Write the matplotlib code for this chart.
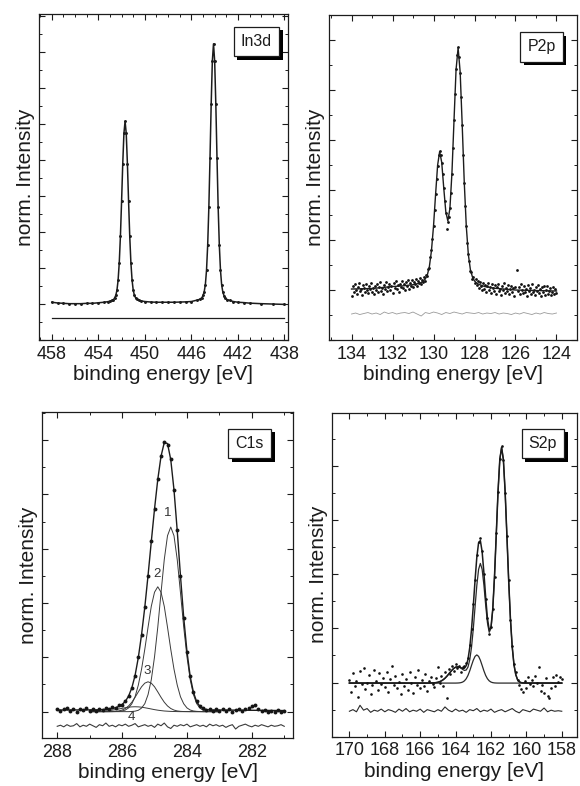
#!/usr/bin/env python3
import matplotlib
matplotlib.use("Agg")
import matplotlib.pyplot as plt
from matplotlib import patheffects
from matplotlib.ticker import FixedLocator, MultipleLocator

# ---------------- In3d ----------------
IN_E = [458.0, 457.5, 457.0, 456.5, 456.0, 455.5, 455.0, 454.5, 454.0, 453.5, 453.2, 453.0,
        452.8, 452.7, 452.6, 452.5, 452.4, 452.3, 452.2, 452.1, 452.0, 451.9, 451.8, 451.7,
        451.6, 451.5, 451.4, 451.3, 451.2, 451.1, 451.0, 450.9, 450.8, 450.7,
        450.5, 450.3, 450.0, 449.5, 449.0, 448.5, 448.0, 447.5, 447.0, 446.5, 446.0, 445.5, 445.3, 445.1,
        445.0, 444.9, 444.8, 444.7, 444.6, 444.5, 444.4, 444.3, 444.2, 444.1,
        444.0, 443.9, 443.8, 443.7, 443.6, 443.5, 443.4, 443.3, 443.2, 443.1,
        442.9, 442.7, 442.4, 442.0, 441.5, 441.0, 440.0, 439.0, 438.0]
IN_I = [1.05, 1.03, 1.02, 1.01, 1.01, 1.01, 1.02, 1.02, 1.035, 1.05, 1.065, 1.08,
        1.105, 1.12, 1.17, 1.24, 1.38, 1.66, 2.15, 2.89, 3.86, 4.90, 5.74, 6.08,
        5.74, 4.90, 3.86, 2.89, 2.15, 1.665, 1.385, 1.245, 1.175, 1.13,
        1.10, 1.085, 1.07, 1.056, 1.05, 1.05, 1.05, 1.05, 1.055, 1.06, 1.07, 1.11, 1.13, 1.174,
        1.24, 1.34, 1.54, 1.94, 2.64, 3.69, 5.07, 6.55, 7.75, 8.23,
        7.75, 6.545, 5.065, 3.685, 2.635, 1.935, 1.535, 1.335, 1.235, 1.164,
        1.12, 1.10, 1.07, 1.05, 1.04, 1.025, 1.01, 1.0, 0.99]
IN_RES_E = [458.0, 438.0]
IN_RES = [0.61, 0.61]
IN_TICKS = [458, 454, 450, 446, 442, 438]

# ---------------- P2p ----------------
P2P_FIT_E = [134.0, 133.0, 132.0, 131.5, 131.0,
             130.9, 130.8, 130.7, 130.6, 130.5, 130.4, 130.3, 130.2, 130.1, 130.0,
             129.9, 129.8, 129.7, 129.6, 129.5, 129.4, 129.3, 129.2, 129.1, 129.0,
             128.9, 128.8, 128.7, 128.6, 128.5, 128.4, 128.3, 128.2, 128.1, 128.0,
             127.9, 127.8, 127.7, 127.5, 127.0, 126.0, 125.0, 124.0]
P2P_FIT = [1.02, 1.03, 1.07, 1.083, 1.106,
           1.113, 1.124, 1.134, 1.15, 1.18, 1.221, 1.303, 1.474, 1.788, 2.275,
           2.905, 3.495, 3.77, 3.555, 3.039, 2.565, 2.381, 2.628, 3.347, 4.39,
           5.407, 5.843, 5.364, 4.302, 3.158, 2.27, 1.709, 1.406, 1.26, 1.182,
           1.142, 1.116, 1.10, 1.069, 1.035, 1.0, 0.99, 0.98]
P2P_E = [134.0, 133.95, 133.9, 133.85, 133.8, 133.75, 133.7, 133.65, 133.6, 133.55,
         133.5, 133.45, 133.4, 133.35, 133.3, 133.25, 133.2, 133.15, 133.1, 133.05,
         133.0, 132.95, 132.9, 132.85, 132.8, 132.75, 132.7, 132.65, 132.6, 132.55,
         132.5, 132.45, 132.4, 132.35, 132.3, 132.25, 132.2, 132.15, 132.1, 132.05,
         132.0, 131.95, 131.9, 131.85, 131.8, 131.75, 131.7, 131.65, 131.6, 131.55,
         131.5, 131.45, 131.4, 131.35, 131.3, 131.25, 131.2, 131.15, 131.1, 131.05,
         131.0, 130.95, 130.9, 130.85, 130.8, 130.75, 130.7, 130.65, 130.6, 130.55,
         130.5, 130.45, 130.4, 130.35, 130.3, 130.25, 130.2, 130.15, 130.1, 130.05,
         130.0, 129.95, 129.9, 129.85, 129.8, 129.75, 129.7, 129.65, 129.6, 129.55,
         129.5, 129.45, 129.4, 129.35, 129.3, 129.25, 129.2, 129.15, 129.1, 129.05,
         129.0, 128.95, 128.9, 128.85, 128.8, 128.75, 128.7, 128.65, 128.6, 128.55,
         128.5, 128.45, 128.4, 128.35, 128.3, 128.25, 128.2, 128.15, 128.1, 128.05,
         128.0,
         127.95, 127.9, 127.85, 127.8, 127.75, 127.7, 127.65, 127.6, 127.55, 127.5,
         127.45, 127.4, 127.35, 127.3, 127.25, 127.2, 127.15, 127.1, 127.05, 127.0,
         126.95, 126.9, 126.85, 126.8, 126.75, 126.7, 126.65, 126.6, 126.55, 126.5,
         126.45, 126.4, 126.35, 126.3, 126.25, 126.2, 126.15, 126.1, 126.05, 126.0,
         125.95, 125.9, 125.85, 125.8, 125.75, 125.7, 125.65, 125.6, 125.55, 125.5,
         125.45, 125.4, 125.35, 125.3, 125.25, 125.2, 125.15, 125.1, 125.05, 125.0,
         124.95, 124.9, 124.85, 124.8, 124.75, 124.7, 124.65, 124.6, 124.55, 124.5,
         124.45, 124.4, 124.35, 124.3, 124.25, 124.2, 124.15, 124.1, 124.05, 124.0]
P2P_I = [0.88, 1.08, 0.97, 1.12, 1.01, 0.93, 1.06, 1.14, 0.98, 1.03,
         0.91, 1.10, 1.05, 0.96, 1.13, 1.00, 0.94, 1.08, 1.02, 1.15,
         0.97, 1.04, 0.92, 1.09, 1.01, 1.12, 0.96, 1.06, 1.17, 0.99,
         1.04, 0.93, 1.11, 1.03, 1.16, 0.98, 1.07, 1.13, 1.00, 1.09,
         0.95, 1.14, 1.05, 1.18, 1.02, 1.10, 0.97, 1.12, 1.06, 1.19,
         1.04, 1.13, 1.00, 1.16, 1.08, 1.21, 1.03, 1.14, 1.09, 1.20,
         1.07, 1.17, 1.12, 1.22, 1.09, 1.19, 1.14, 1.25, 1.13, 1.21,
         1.17, 1.26, 1.19, 1.30, 1.28, 1.42, 1.45, 1.66, 1.80, 2.02,
         2.28, 2.60, 2.92, 3.22, 3.48, 3.70, 3.78, 3.70, 3.54, 3.32,
         3.05, 2.78, 2.55, 2.22, 2.36, 2.46, 2.64, 2.95, 3.33, 3.85,
         4.40, 4.92, 5.42, 5.70, 5.86, 5.66, 5.35, 4.86, 4.31, 3.70,
         3.15, 2.68, 2.29, 1.95, 1.72, 1.58, 1.38, 1.36, 1.22, 1.27,
         1.15,
         1.22, 1.10, 1.19, 1.05, 1.16, 1.08, 1.00, 1.14, 1.03, 1.11,
         0.97, 1.09, 1.15, 1.01, 1.07, 0.94, 1.12, 1.04, 0.99, 1.10,
         0.92, 1.06, 1.13, 0.98, 1.03, 0.90, 1.08, 1.00, 1.14, 0.95,
         1.05, 0.98, 1.11, 0.93, 1.02, 1.09, 0.96, 1.04, 0.89, 1.07,
         1.40, 0.99, 1.06, 0.92, 1.12, 1.00, 0.94, 1.08, 0.97, 1.03,
         0.88, 1.10, 0.99, 1.05, 0.93, 1.13, 0.96, 1.01, 0.90, 1.07,
         0.98, 1.11, 0.94, 1.02, 0.89, 1.06, 0.97, 1.09, 0.91, 1.00,
         1.08, 0.93, 0.99, 1.04, 0.90, 0.97, 1.06, 0.92, 1.02, 0.95]
P2P_RES = [0.52, 0.54, 0.51, 0.53, 0.55, 0.52, 0.54, 0.51, 0.56, 0.53,
           0.55, 0.52, 0.54, 0.55, 0.53, 0.56, 0.52, 0.48, 0.55, 0.53,
           0.56, 0.54, 0.51, 0.55, 0.53, 0.56, 0.54, 0.52, 0.55, 0.54,
           0.53, 0.55, 0.52, 0.54, 0.53, 0.55, 0.52, 0.54, 0.53, 0.51,
           0.54, 0.52, 0.55, 0.53, 0.51, 0.54, 0.52, 0.55, 0.53, 0.52,
           0.54]
P2P_TICKS = [134, 132, 130, 128, 126, 124]

# ---------------- C1s ----------------
C1S_E = [288.0, 287.9, 287.8, 287.7, 287.6, 287.5, 287.4, 287.3, 287.2, 287.1,
         287.0, 286.9, 286.8, 286.7, 286.6, 286.5, 286.4, 286.3, 286.2, 286.1,
         286.0, 285.9, 285.8, 285.7, 285.6, 285.5, 285.4, 285.3, 285.2, 285.1,
         285.0, 284.9, 284.8, 284.7, 284.6, 284.5, 284.4, 284.3, 284.2, 284.1,
         284.0, 283.9, 283.8, 283.7, 283.6, 283.5, 283.4, 283.3, 283.2, 283.1,
         283.0, 282.9, 282.8, 282.7, 282.6, 282.5, 282.4, 282.3, 282.2, 282.1,
         282.0, 281.9, 281.8, 281.7, 281.6, 281.5, 281.4, 281.3, 281.2, 281.1,
         281.0]
C1S_I = [0.05, 0.01, 0.04, 0.06, 0.02, 0.04, 0.00, 0.05, 0.03, 0.06,
         0.01, 0.04, 0.02, 0.05, 0.03, 0.07, 0.04, 0.08, 0.07, 0.12,
         0.13, 0.20, 0.28, 0.44, 0.66, 1.00, 1.42, 1.93, 2.50, 3.14,
         3.73, 4.28, 4.70, 4.97, 4.92, 4.65, 4.08, 3.34, 2.50, 1.73,
         1.10, 0.65, 0.36, 0.19, 0.10, 0.07, 0.03, 0.05, 0.02, 0.04,
         0.01, 0.05, 0.02, 0.04, 0.00, 0.03, 0.05, 0.02, 0.04, 0.06,
         0.10, 0.12, 0.04, 0.01, 0.03, -0.01, 0.02, 0.00, 0.03, -0.01,
         0.01]
C1S_RES = [-0.27, -0.25, -0.28, -0.24, -0.27, -0.26, -0.22, -0.28, -0.25, -0.27,
           -0.23, -0.26, -0.29, -0.24, -0.26, -0.21, -0.27, -0.25, -0.28, -0.24,
           -0.26, -0.23, -0.27, -0.25, -0.22, -0.28, -0.26, -0.24, -0.27, -0.25,
           -0.29, -0.23, -0.26, -0.21, -0.28, -0.31, -0.25, -0.27, -0.24, -0.26,
           -0.23, -0.28, -0.26, -0.24, -0.27, -0.25, -0.28, -0.23, -0.26, -0.24,
           -0.27, -0.25, -0.29, -0.26, -0.24, -0.32, -0.27, -0.25, -0.23, -0.26,
           -0.28, -0.25, -0.27, -0.24, -0.26, -0.28, -0.25, -0.27, -0.26, -0.24,
           -0.27]
C1S_FIT_E = [288.0, 286.8, 286.7, 286.6, 286.5, 286.4, 286.3, 286.2, 286.1, 286.0,
             285.9, 285.8, 285.7, 285.6, 285.5, 285.4, 285.3, 285.2, 285.1, 285.0,
             284.9, 284.8, 284.7, 284.6, 284.5, 284.4, 284.3, 284.2, 284.1, 284.0,
             283.9, 283.8, 283.7, 283.6, 283.5, 283.4, 283.3, 283.0, 281.0]
C1S_FIT = [0.03, 0.033, 0.035, 0.038, 0.042, 0.05, 0.059, 0.072, 0.097, 0.132,
           0.19, 0.286, 0.438, 0.667, 0.996, 1.419, 1.924, 2.509, 3.131, 3.735,
           4.276, 4.703, 4.956, 4.938, 4.643, 4.085, 3.332, 2.50, 1.732, 1.109,
           0.647, 0.355, 0.182, 0.096, 0.055, 0.039, 0.03, 0.03, 0.02]
C1S_COMP_E = [287.0, 286.8, 286.7, 286.6, 286.5, 286.4, 286.3, 286.2, 286.1, 286.0,
              285.9, 285.8, 285.7, 285.6, 285.5, 285.4, 285.3, 285.2, 285.1, 285.0,
              284.9, 284.8, 284.7, 284.6, 284.5, 284.4, 284.3, 284.2, 284.1, 284.0,
              283.9, 283.8, 283.7, 283.6, 283.5, 283.4, 283.3, 283.2, 283.0]
C1S_COMP1 = [0, 0, 0, 0, 0, 0, 0, 0, 0, 0,
             0, 0, 0.003, 0.009, 0.025, 0.066, 0.147, 0.313, 0.587, 1.01,
             1.555, 2.19, 2.80, 3.24, 3.40, 3.24, 2.80, 2.19, 1.555, 1.01,
             0.587, 0.313, 0.147, 0.066, 0.025, 0.009, 0.003, 0, 0]
C1S_COMP2 = [0, 0, 0, 0, 0, 0, 0, 0.002, 0.005, 0.012,
             0.030, 0.069, 0.145, 0.274, 0.489, 0.783, 1.15, 1.555, 1.94, 2.20,
             2.30, 2.20, 1.94, 1.555, 1.15, 0.783, 0.489, 0.274, 0.145, 0.069,
             0.030, 0.012, 0.005, 0.002, 0, 0, 0, 0, 0]
C1S_COMP3 = [0, 0, 0, 0, 0, 0.001, 0.002, 0.0055, 0.013, 0.029,
             0.058, 0.105, 0.174, 0.264, 0.364, 0.458, 0.525, 0.55, 0.525, 0.458,
             0.364, 0.264, 0.174, 0.105, 0.058, 0.029, 0.013, 0.0055, 0.002, 0.001,
             0, 0, 0, 0, 0, 0, 0, 0, 0]
C1S_COMP4 = [0.001, 0.0026, 0.0045, 0.008, 0.012, 0.019, 0.027, 0.037, 0.049, 0.061,
             0.072, 0.082, 0.088, 0.09, 0.088, 0.082, 0.072, 0.061, 0.049, 0.037,
             0.027, 0.019, 0.012, 0.008, 0.0045, 0.0026, 0.001, 0, 0, 0,
             0, 0, 0, 0, 0, 0, 0, 0, 0]
C1S_COMP_NAMES = ["1", "2", "3", "4"]
C1S_TICKS = [288, 286, 284, 282]

# ---------------- S2p ----------------
S2P_E = [170.0, 169.9, 169.8, 169.7, 169.6, 169.5, 169.4, 169.3, 169.2, 169.1,
         169.0, 168.9, 168.8, 168.7, 168.6, 168.5, 168.4, 168.3, 168.2, 168.1,
         168.0, 167.9, 167.8, 167.7, 167.6, 167.5, 167.4, 167.3, 167.2, 167.1,
         167.0, 166.9, 166.8, 166.7, 166.6, 166.5, 166.4, 166.3, 166.2, 166.1,
         166.0, 165.9, 165.8, 165.7, 165.6, 165.5, 165.4, 165.3, 165.2, 165.1,
         165.0, 164.9, 164.8, 164.7, 164.6, 164.5, 164.4, 164.3, 164.2, 164.1,
         164.0, 163.9, 163.8, 163.7, 163.6, 163.5, 163.4, 163.3, 163.2, 163.1,
         163.0, 162.9, 162.8, 162.7, 162.6, 162.5, 162.4, 162.3, 162.2, 162.1,
         162.0, 161.9, 161.8, 161.7, 161.6, 161.5, 161.4, 161.3, 161.2, 161.1,
         161.0, 160.9, 160.8, 160.7, 160.6, 160.5, 160.4, 160.3, 160.2, 160.1,
         160.0, 159.9, 159.8, 159.7, 159.6, 159.5, 159.4, 159.3, 159.2, 159.1,
         159.0, 158.9, 158.8, 158.7, 158.6, 158.5, 158.4, 158.3, 158.2, 158.1,
         158.0]
S2P_I = [1.05, 0.82, 1.18, 0.93, 1.02, 0.74, 1.21, 0.98, 1.26, 0.88,
         1.00, 1.14, 0.79, 0.95, 1.23, 1.03, 0.86, 1.17, 0.97, 1.09,
         0.92, 1.20, 0.83, 1.06, 1.31, 0.96, 1.12, 0.90, 1.01, 0.78,
         1.16, 0.94, 1.07, 0.87, 1.19, 0.99, 0.81, 1.10, 0.96, 1.24,
         0.89, 1.05, 0.93, 1.15, 0.84, 1.02, 1.11, 0.97, 0.91, 1.08,
         1.28, 1.00, 1.12, 0.94, 1.19, 0.72, 1.25, 1.15, 1.30, 1.22,
         1.34, 1.27, 1.31, 1.20, 1.28, 1.30, 1.36, 1.45, 1.70, 1.98,
         2.45, 2.90, 3.35, 3.60, 3.66, 3.42, 3.00, 2.55, 2.20, 1.90,
         2.03, 2.36, 2.95, 3.76, 4.52, 5.13, 5.36, 5.10, 4.50, 3.70,
         2.90, 2.16, 1.68, 1.35, 1.20, 1.05, 0.95, 0.88, 0.83, 1.02,
         0.90, 1.10, 0.97, 1.05, 0.93, 1.12, 1.00, 1.29, 0.85, 0.96,
         0.80, 1.08, 0.76, 0.72, 0.90, 1.10, 0.94, 1.13, 1.01, 1.11,
         1.06]
S2P_RES = [0.47, 0.50, 0.46, 0.58, 0.49, 0.52, 0.45, 0.49, 0.47, 0.51,
           0.46, 0.50, 0.48, 0.45, 0.51, 0.47, 0.52, 0.46, 0.49, 0.47,
           0.51, 0.45, 0.50, 0.48, 0.46, 0.50, 0.47, 0.55, 0.49, 0.46,
           0.51, 0.47, 0.49, 0.45, 0.50, 0.48, 0.52, 0.46, 0.49, 0.47,
           0.51, 0.45, 0.48, 0.50, 0.46, 0.49, 0.52, 0.47, 0.44, 0.50,
           0.48, 0.46, 0.51, 0.49, 0.47, 0.53, 0.46, 0.49, 0.47, 0.48,
           0.47]
S2P_FIT_E = [170.0, 165.5,
             165.2, 165.1, 165.0, 164.9, 164.8, 164.7, 164.6, 164.5, 164.4, 164.3,
             164.2, 164.1, 164.0, 163.9, 163.8, 163.7, 163.6, 163.5, 163.4, 163.3,
             163.2, 163.1, 163.0, 162.9, 162.8, 162.7, 162.6, 162.5, 162.4, 162.3,
             162.2, 162.1, 162.0, 161.9, 161.8, 161.7, 161.6, 161.5, 161.4, 161.3,
             161.2, 161.1, 161.0, 160.9, 160.8, 160.7, 160.6, 160.5, 160.4, 160.3,
             160.2, 160.0, 158.0]
S2P_FIT = [0.99, 0.99,
           0.995, 0.999, 1.005, 1.016, 1.031, 1.052, 1.079, 1.113, 1.152, 1.192,
           1.23, 1.262, 1.283, 1.29, 1.287, 1.274, 1.261, 1.265, 1.311, 1.426,
           1.644, 1.976, 2.41, 2.886, 3.311, 3.581, 3.62, 3.416, 3.026, 2.572,
           2.184, 1.968, 2.018, 2.353, 2.964, 3.745, 4.534, 5.122, 5.34, 5.118,
           4.522, 3.713, 2.882, 2.173, 1.66, 1.329, 1.147, 1.054, 1.014, 0.999,
           0.993, 0.99, 0.99]
S2P_DOUBLET = [0.99, 0.99,
               0.995, 0.999, 1.005, 1.016, 1.031, 1.052, 1.079, 1.113, 1.152, 1.192,
               1.23, 1.262, 1.283, 1.29, 1.284, 1.266, 1.242, 1.224, 1.231, 1.285,
               1.418, 1.65, 1.988, 2.393, 2.791, 3.088, 3.198, 3.09, 2.80, 2.431,
               2.104, 1.927, 1.999, 2.345, 2.961, 3.745, 4.534, 5.122, 5.34, 5.118,
               4.522, 3.713, 2.882, 2.173, 1.66, 1.329, 1.147, 1.054, 1.014, 0.999,
               0.993, 0.99, 0.99]
S2P_SMALL_E = [170.0, 164.0, 163.9, 163.8, 163.7, 163.6, 163.5, 163.4, 163.3, 163.2,
               163.1, 163.0, 162.9, 162.8, 162.7, 162.6, 162.5, 162.4, 162.3, 162.2,
               162.1, 162.0, 161.9, 161.8, 161.7, 161.6, 158.0]
S2P_SMALL = [0.99, 0.99, 0.991, 0.993, 0.998, 1.009, 1.031, 1.07, 1.131, 1.216,
             1.316, 1.412, 1.483, 1.51, 1.483, 1.412, 1.316, 1.216, 1.131, 1.07,
             1.031, 1.009, 0.998, 0.993, 0.991, 0.99, 0.99]
S2P_TICKS = [170, 168, 166, 164, 162, 160, 158]

INK = "#1c1c1c"
plt.rcParams["font.family"] = ["Liberation Sans", "DejaVu Sans"]


def style_axes(ax, xlim, ylim, xticks):
    ax.set_xlim(*xlim)
    ax.set_ylim(*ylim)
    ax.xaxis.set_major_locator(FixedLocator(xticks))
    ax.xaxis.set_minor_locator(MultipleLocator(1))
    ax.yaxis.set_major_locator(MultipleLocator(1))
    ax.yaxis.set_minor_locator(MultipleLocator(0.5))
    ax.tick_params(which="both", direction="in", top=True, right=True,
                   labelleft=False, color=INK, labelcolor=INK)
    ax.tick_params(which="major", length=4, width=0.8, labelsize=13, pad=4)
    ax.tick_params(which="minor", length=2.2, width=0.7)
    ax.set_xlabel("binding energy [eV]", fontsize=15, labelpad=2, color=INK)
    ax.set_ylabel("norm. Intensity", fontsize=15, labelpad=3, color=INK)
    for spine in ax.spines.values():
        spine.set_linewidth(0.9)
        spine.set_color(INK)


def tag(ax, text, x, y):
    # label box with a solid drop shadow drawn under the box itself
    t = ax.text(x, y, text, transform=ax.transAxes, ha="right", va="top", fontsize=11.5,
                color=INK, zorder=6,
                bbox=dict(boxstyle="square,pad=0.45", fc="white", ec=INK, lw=0.9))
    t.get_bbox_patch().set_path_effects([
        patheffects.SimplePatchShadow(offset=(2.6, -2.6), shadow_rgbFace="black", alpha=1.0),
        patheffects.Normal(),
    ])


fig = plt.figure(figsize=(5.8, 7.86), dpi=100)
ax1 = fig.add_axes([0.0672, 0.5674, 0.4293, 0.4148])
ax2 = fig.add_axes([0.5672, 0.5674, 0.4276, 0.4135])
ax3 = fig.add_axes([0.0724, 0.0611, 0.4328, 0.4148])
ax4 = fig.add_axes([0.5719, 0.0627, 0.4229, 0.4122])

# In3d
ax1.plot(IN_E, IN_I, color=INK, lw=1.1, marker=".", ms=2.2)
ax1.plot(IN_RES_E, IN_RES, color=INK, lw=0.9)
style_axes(ax1, (459.1, 437.7), (0, 9.06), IN_TICKS)
tag(ax1, "In3d", 0.936, 0.939)

# P2p
ax2.plot(P2P_E, P2P_I, ls="none", marker="o", ms=2.0, color="#111111", mew=0)
ax2.plot(P2P_FIT_E, P2P_FIT, color=INK, lw=1.0)
ax2.plot(P2P_E[::4], P2P_RES, color="#9a9a9a", lw=0.6)
style_axes(ax2, (135.1, 123.0), (0, 6.5), P2P_TICKS)
tag(ax2, "P2p", 0.914, 0.925)

# C1s
for comp in (C1S_COMP1, C1S_COMP2, C1S_COMP3, C1S_COMP4):
    ax3.plot(C1S_COMP_E, comp, color="#3a3a3a", lw=0.7)
ax3.plot(C1S_FIT_E, C1S_FIT, color=INK, lw=1.0)
ax3.plot(C1S_E, C1S_I, ls="none", marker="o", ms=2.8, color="#151515", mew=0)
ax3.plot(C1S_E, C1S_RES, color="#3a3a3a", lw=0.8)
for name, (ex, ey) in zip(C1S_COMP_NAMES, [(284.58, 3.66), (284.93, 2.53), (285.24, 0.74), (285.7, -0.09)]):
    ax3.text(ex, ey, name, fontsize=9.5, color="#333333", ha="center", va="center")
style_axes(ax3, (288.47, 280.73), (-0.485, 5.52), C1S_TICKS)
tag(ax3, "C1s", 0.884, 0.926)

# S2p
ax4.plot(S2P_SMALL_E, S2P_SMALL, color="#2a2a2a", lw=0.9)
ax4.plot(S2P_FIT_E, S2P_DOUBLET, color="#2a2a2a", lw=0.9)
ax4.plot(S2P_FIT_E, S2P_FIT, color=INK, lw=1.1)
ax4.plot(S2P_E, S2P_I, ls="none", marker="o", ms=1.9, color="#111111", mew=0)
ax4.plot(S2P_E[::2], S2P_RES, color="#2a2a2a", lw=0.8)
style_axes(ax4, (171.0, 157.14), (0, 5.98), S2P_TICKS)
tag(ax4, "S2p", 0.919, 0.928)

fig.savefig("out.png", dpi=100)
